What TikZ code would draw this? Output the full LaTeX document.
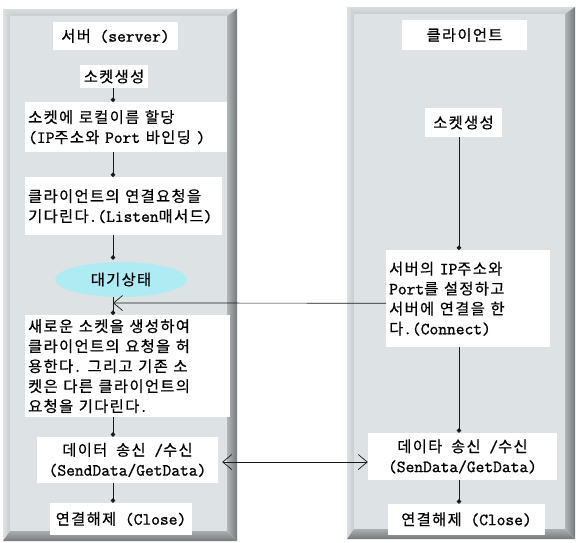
\documentclass[tikz,border=0pt]{standalone}
\usepackage{fontspec}
\setmainfont{Latin Modern Mono}[FakeBold=1.2]
\newfontfamily\krfont{Noto Sans CJK KR}[Scale=0.9,LetterSpace=9,FakeBold=0.6]
\newcommand\K[1]{{\krfont #1}}
\usetikzlibrary{arrows.meta,shapes.geometric}

\definecolor{panelin}{HTML}{DDE3E5}
\definecolor{bevtop}{HTML}{C6CDD0}
\definecolor{bevdark}{HTML}{73797C}
\definecolor{waitcyan}{HTML}{AEEBF3}

\tikzset{
  stepbox/.style={fill=white, inner sep=3pt, font=\fontsize{17}{20}\selectfont},
  flow/.style={draw=black!90, line width=0.8pt, -{Circle[length=4.5pt]}},
  msg/.style={draw=black!90, line width=0.7pt},
  barb/.tip={Straight Barb[length=9pt,width=15pt]},
}

% raised grey panel, outer corners (#1,#2) and (#3,#4)
\newcommand\bevelpanel[4]{%
  \shade[top color=bevtop!70!white, bottom color=bevtop] (#1,#2) -- (#3,#2) -- (#3-10,#2+7) -- (#1+7,#2+7) -- cycle;
  \shade[left color=bevtop!60!white, right color=bevtop] (#1,#2) -- (#1+7,#2+7) -- (#1+7,#4-10) -- (#1,#4) -- cycle;
  \shade[left color=bevdark!55!white, right color=bevdark] (#3,#2) -- (#3,#4) -- (#3-10,#4-10) -- (#3-10,#2+7) -- cycle;
  \shade[top color=bevdark!60!white, bottom color=bevdark] (#1,#4) -- (#3,#4) -- (#3-10,#4-10) -- (#1+7,#4-10) -- cycle;
  \fill[panelin] (#1+7,#2+7) rectangle (#3-10,#4-10);
}

\begin{document}
\begin{tikzpicture}[x=1pt,y=-1pt]
        \useasboundingbox (0,0) rectangle (576,542);

        %Panels
        \bevelpanel{3}{9}{237}{541}
        \bevelpanel{347}{7}{575}{539}

        %Columns for the flow lines
        \coordinate (colL) at (113,0);
        \coordinate (colR) at (459,0);

        %Server side
        \node[stepbox, minimum width=125pt, minimum height=28pt] (sTitle) at (115.5,36) {\K{서버} (server)};
        \node[stepbox, minimum width=68pt, minimum height=23pt] (sCreate) at (114,76.5) {\K{소켓생성}};
        \node[stepbox, anchor=north west, text width=196pt, align=left, minimum height=50pt] (sBind) at (25,102)
            {\K{소켓에}~\K{로컬이름}~\K{할당}\\(IP\K{주소와}~Port~\K{바인딩}~)};
        \node[stepbox, anchor=north west, text width=191pt, align=left, minimum height=58pt] (sListen) at (25,177)
            {\K{클라이언트의}~\K{연결요청을}\\\K{기다린다}.(Listen\K{매서드})};
        \node[ellipse, fill=waitcyan, minimum width=132pt, minimum height=35pt, inner sep=0pt,
              font=\fontsize{17}{20}\selectfont] (sWait) at (121,279.5) {\K{대기상태}};
        \node[stepbox, anchor=north west, text width=199pt, align=left, minimum height=102pt] (sAccept) at (25,315)
            {\K{새로운}~\K{소켓을}~\K{생성하여}\\\K{클라이언트의}~\K{요청을}~\K{허}\\\K{용한다}.~\K{그리고}~\K{기존}~\K{소}\\\K{켓은}~\K{다른}~\K{클라이언트의}\\\K{요청을}~\K{기다린다}.};
        \node[stepbox, minimum width=181pt, minimum height=46pt, align=center] (sData) at (127.5,460)
            {\K{데이터}~\K{송신}~/\K{수신}\\(SendData/GetData)};
        \node[stepbox, minimum width=142pt, minimum height=32pt] (sClose) at (121,519) {\K{연결해제} (Close)};

        %Client side
        \node[stepbox, minimum width=125pt, minimum height=30pt] (cTitle) at (464.5,35) {\K{클라이언트}};
        \node[stepbox, minimum width=77pt, minimum height=29pt] (cCreate) at (463.5,122.5) {\K{소켓생성}};
        \node[stepbox, anchor=north west, text width=158pt, align=left, minimum height=97pt] (cConnect) at (386,250)
            {\K{서버의}~IP\K{주소와}\\Port\K{를}~\K{설정하고}\\\K{서버에}~\K{연결을}~\K{한}\\\K{다}.(Connect)};
        \node[stepbox, minimum width=189pt, minimum height=47pt, align=center] (cData) at (462.5,456.5)
            {\K{데이타}~\K{송신}~/\K{수신}\\(SenData/GetData)};
        \node[stepbox, minimum width=157pt, minimum height=31pt] (cClose) at (466.5,519.5) {\K{연결해제} (Close)};

        %Flow lines
        \draw[flow] (sCreate.south -| colL) -- (sBind.north -| colL);
        \draw[flow] (sBind.south -| colL) -- (sListen.north -| colL);
        \draw[flow] (sListen.south -| colL) -- ([yshift=2pt]sWait.north -| colL);
        \draw[flow] (sWait.south -| colL) -- (sAccept.north -| colL);
        \draw[flow] (sAccept.south -| colL) -- (sData.north -| colL);
        \draw[flow] (sData.south -| colL) -- (sClose.north -| colL);

        \draw[flow] (cCreate.south -| colR) -- (cConnect.north -| colR);
        \draw[flow] (cConnect.south -| colR) -- (cData.north -| colR);
        \draw[flow] (cData.south -| colR) -- (cClose.north -| colR);

        %Messages between the two sides
        \coordinate (accept) at (113,303);
        \draw[msg, -barb] ([yshift=-4.5pt]cConnect.west) -- (accept);
        \draw[msg, barb-barb] ([xshift=4pt,yshift=-2pt]sData.east) -- ([yshift=-5.5pt]cData.west);

\end{tikzpicture}
\end{document}
